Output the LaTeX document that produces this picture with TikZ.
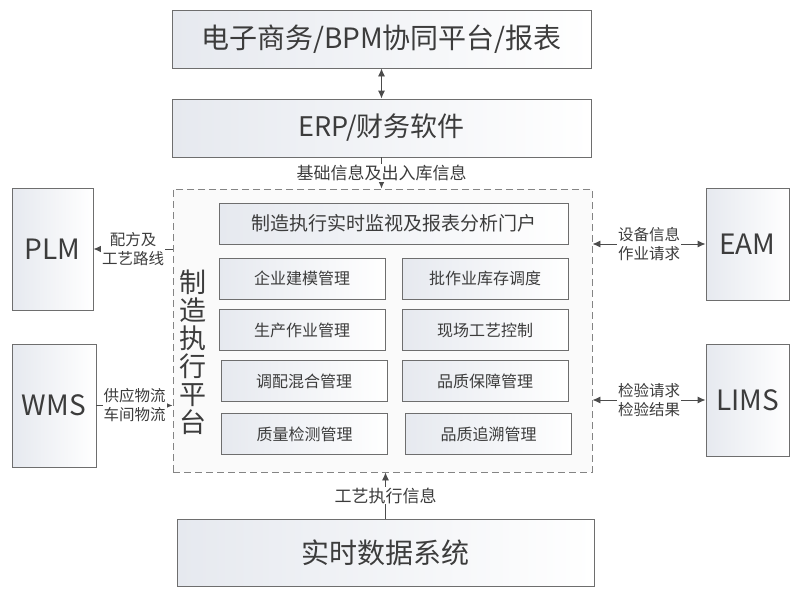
\documentclass[tikz,border=0pt]{standalone}
\usepackage{fontspec}
\setmainfont{Noto Sans CJK SC}
\usetikzlibrary{arrows.meta}

\definecolor{boxline}{HTML}{6E6E6E}
\definecolor{boxfill}{HTML}{E6E9EF}
\definecolor{txt}{HTML}{3C3C3C}

\tikzset{
  sysbox/.style={draw=boxline, line width=0.9pt, left color=boxfill, right color=white,
    text=txt, inner sep=0pt},
  modbox/.style={sysbox, minimum width=166pt, minimum height=41pt,
    font=\fontsize{16}{18}\selectfont},
  link/.style={draw=black!70, line width=0.9pt},
  tag/.style={fill=white, text=txt, inner sep=1pt, align=center,
    font=\fontsize{15.5}{19}\selectfont},
}

\begin{document}
\begin{tikzpicture}[x=1pt, y=-1pt, >={Latex[length=8pt, width=7pt]}]
  \useasboundingbox (0,0) rectangle (800,600);

  % top layers
  \node[sysbox, minimum width=419pt, minimum height=58pt, font=\fontsize{28}{30}\selectfont]
    (ebiz) at (381.5,39) {电子商务/BPM协同平台/报表};
  \node[sysbox, minimum width=419pt, minimum height=58pt, font=\fontsize{27}{30}\selectfont]
    (erp) at (381.5,128) {ERP/财务软件};

  % MES frame
  \node[draw=boxline!85, dash pattern=on 7pt off 4pt, line width=0.9pt, fill=black!2,
    minimum width=419pt, minimum height=283pt] (mes) at (382.5,330.5) {};
  \node[font=\fontsize{27}{28}\selectfont, align=center, text=txt]
    (mestitle) at (193,352) {制\\造\\执\\行\\平\\台};

  % MES modules
  \node[sysbox, minimum width=349pt, minimum height=41pt, font=\fontsize{19}{21}\selectfont]
    (portal) at (393.5,223.5) {制造执行实时监视及报表分析门户};
  \foreach \n/\yy/\lx/\rx/\lt/\rt in {
      1/278.5/302/485/企业建模管理/批作业库存调度,
      2/330/302/485/生产作业管理/现场工艺控制,
      3/381/304/485/调配混合管理/品质保障管理,
      4/434/304.5/488.5/质量检测管理/品质追溯管理} {
    \node[modbox] (mod\n l) at (\lx,\yy) {\lt};
    \node[modbox] (mod\n r) at (\rx,\yy) {\rt};
  }

  % side systems
  \node[sysbox, minimum width=81pt, minimum height=122pt, font=\fontsize{28}{30}\selectfont]
    (plm) at (52.5,249) {PLM};
  \node[sysbox, minimum width=84pt, minimum height=123pt, font=\fontsize{28}{30}\selectfont]
    (wms) at (54,405.5) {WMS};
  \node[sysbox, minimum width=83pt, minimum height=112pt, font=\fontsize{28}{30}\selectfont]
    (eam) at (747.5,244) {EAM};
  \node[sysbox, minimum width=83pt, minimum height=112pt, font=\fontsize{28}{30}\selectfont]
    (lims) at (747.5,400) {LIMS};

  % real-time data
  \node[sysbox, minimum width=417pt, minimum height=67pt, font=\fontsize{28}{30}\selectfont]
    (rtdb) at (385.5,552.5) {实时数据系统};

  % connectors
  \draw[link, <->] (ebiz) -- (erp);
  \draw[link, ->] (erp) -- (erp |- mes.north)
    node[tag, midway, font=\fontsize{17}{19}\selectfont] {基础信息及出入库信息};
  \draw[link, ->] (mes.west |- plm) -- (plm.east)
    node[tag, midway] {配方及\\工艺路线};
  \draw[link, ->] (wms.east) -- (wms -| mes.west)
    node[tag, midway] {供应物流\\车间物流};
  \draw[link, <->] (mes.east |- eam) -- (eam.west)
    node[tag, midway] {设备信息\\作业请求};
  \draw[link, <->] (mes.east |- lims) -- (lims.west)
    node[tag, midway] {检验请求\\检验结果};
  \draw[link, ->] (rtdb) -- (rtdb |- mes.south)
    node[tag, midway, font=\fontsize{17}{19}\selectfont] {工艺执行信息};
\end{tikzpicture}
\end{document}
